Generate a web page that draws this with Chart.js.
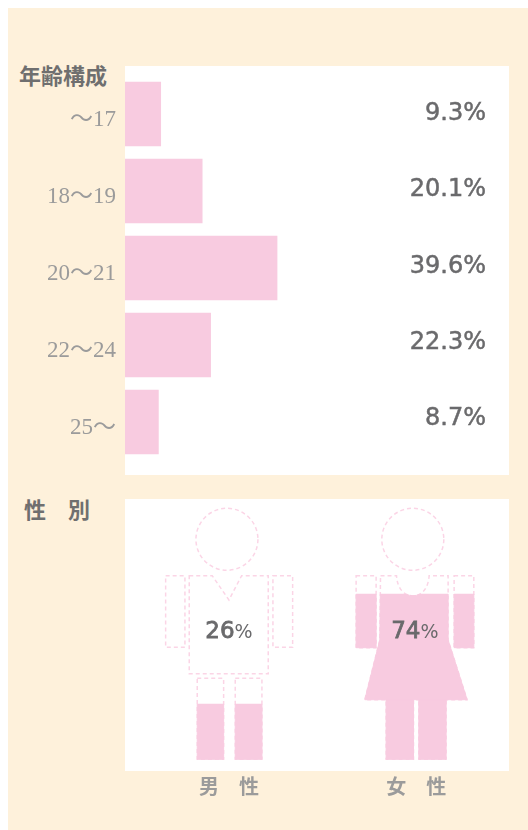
<!DOCTYPE html>
<html lang="ja"><head><meta charset="utf-8">
<style>
html,body{margin:0;padding:0;background:#fff;width:528px;height:830px;overflow:hidden}
#cream{position:absolute;left:8px;top:8px;width:520px;height:822px;background:#fef1db}
.panel{position:absolute;left:125px;width:384px;background:#fff}
.head{position:absolute;font:700 22px "Noto Sans CJK JP";color:#6f6f6f;white-space:pre;line-height:24px}
.w{position:absolute}
canvas{display:block}
</style>
<script src="https://cdn.jsdelivr.net/npm/chart.js@4"></script>
</head><body>
<div id="cream"></div>
<div class="panel" style="top:66px;height:409px"></div>
<div class="panel" style="top:499px;height:272px"></div>
<div class="head" style="left:19px;top:62px">年齢構成</div>
<div class="head" style="left:24px;top:496px">性　別</div>
<div class="w" style="left:0;top:66px;width:528px;height:409px"><canvas id="age" width="528" height="409"></canvas></div>
<div class="w" style="left:0;top:499px;width:528px;height:331px"><canvas id="sex" width="528" height="331"></canvas></div>
<script>
const ageLabels = ['～17','18～19','20～21','22～24','25～'];
const ageValues = [9.3,20.1,39.6,22.3,8.7];
const sexLabels = ['男　性','女　性'];
const maleValues = [26,null];
const femaleValues = [null,74];

const PINK='#f8cbe0', DASH='#fbd5e6', VALUE='#6a6a6c', TICK='#9b9b9b';
const VALFONT='"DejaVu Sans"';
Chart.defaults.animation=false;

// small vertical nudges of the percentage labels, as in the reference layout
const ageLabelNudge=[0,-1,-1,-2,-3];

const ageValueLabels={id:'ageValueLabels',afterDatasetsDraw(c){
  const {ctx,scales:{y}}=c;ctx.save();
  ctx.font='24px '+VALFONT;ctx.fillStyle=VALUE;ctx.strokeStyle=VALUE;ctx.lineWidth=0.5;ctx.textAlign='right';ctx.textBaseline='middle';
  ageValues.forEach((v,i)=>{
    const t=v.toFixed(1)+'%',py=y.getPixelForValue(i)+ageLabelNudge[i];
    ctx.fillText(t,486,py);ctx.strokeText(t,486,py);
  });
  ctx.restore();
}};

new Chart(document.getElementById('age'),{
  type:'bar',
  data:{labels:ageLabels,datasets:[{data:ageValues,backgroundColor:PINK,barThickness:64,borderWidth:0}]},
  options:{indexAxis:'y',responsive:false,maintainAspectRatio:false,
    layout:{autoPadding:false,padding:{top:9.5,bottom:14.5,right:19,left:0}},
    plugins:{legend:{display:false},tooltip:{enabled:false}},
    scales:{
      x:{display:false,min:0,max:100},
      y:{afterFit(s){s.width=125;s.paddingTop=0;s.paddingBottom=0},grid:{display:false},border:{display:false},
         ticks:{font:{family:'"Liberation Serif","Noto Sans CJK JP"',size:23},color:TICK,padding:1,labelOffset:5.5,autoSkip:false}}
    }},
  plugins:[ageValueLabels]
});

// Figure outlines relative to the category centre (dx); y = page y, converted to canvas y
const Y=p=>p-499;
function rectPath(ctx,cx,x0,x1,y0,y1){ctx.rect(cx+x0,Y(y0),x1-x0,y1-y0);}
function malePath(ctx,cx){
  ctx.moveTo(cx-2+31,Y(539.3));ctx.arc(cx-2,Y(539.3),31,0,Math.PI*2);ctx.closePath();
  rectPath(ctx,cx,-63.3,-44,575.7,647.3);
  rectPath(ctx,cx,44,63.7,575.7,647.3);
  ctx.moveTo(cx-39.7,Y(575.7));
  ctx.lineTo(cx-16.7,Y(575.7));
  ctx.lineTo(cx,Y(600));
  ctx.lineTo(cx+12.7,Y(575.7));
  ctx.lineTo(cx+39.3,Y(575.7));
  ctx.lineTo(cx+39.3,Y(673.7));
  ctx.lineTo(cx-39.7,Y(673.7));
  ctx.closePath();
  rectPath(ctx,cx,-31.7,-5.3,678.3,759.3);
  rectPath(ctx,cx,6.3,33,678.3,759.3);
}
function femalePath(ctx,cx){
  ctx.moveTo(cx-3.5+31,Y(539.3));ctx.arc(cx-3.5,Y(539.3),31,0,Math.PI*2);ctx.closePath();
  rectPath(ctx,cx,-60.2,-40.2,575.7,647.7);
  rectPath(ctx,cx,37.8,57.5,575.7,647.7);
  ctx.moveTo(cx-35.8,Y(575.7));
  ctx.lineTo(cx-19.8,Y(575.7));
  ctx.bezierCurveTo(cx-19,Y(588),cx-13,Y(595.7),cx-3.2,Y(595.7));
  ctx.bezierCurveTo(cx+6,Y(595.7),cx+12,Y(588),cx+12.8,Y(575.7));
  ctx.lineTo(cx+31.8,Y(575.7));
  ctx.lineTo(cx+31.8,Y(640));
  ctx.lineTo(cx+50.8,Y(699.7));
  ctx.lineTo(cx-51.5,Y(699.7));
  ctx.lineTo(cx-36.5,Y(640));
  ctx.closePath();
  rectPath(ctx,cx,-30.2,-2.8,699.7,759.3);
  rectPath(ctx,cx,2.5,29.8,699.7,759.3);
}
const figurePaths=[malePath,femalePath];
const sexValues=[26,74];

const figures={id:'figures',
  beforeDatasetsDraw(c){
    const {ctx,scales:{x}}=c;
    ctx.save();
    ctx.strokeStyle=DASH;ctx.lineWidth=1.5;ctx.setLineDash([4,3]);
    figurePaths.forEach((p,i)=>{ctx.beginPath();p(ctx,x.getPixelForValue(i));ctx.stroke();});
    ctx.restore();
  },
  beforeDatasetDraw(c,args){
    const ctx=c.ctx,cx=c.scales.x.getPixelForValue(args.index);
    ctx.save();ctx.beginPath();figurePaths[args.index](ctx,cx);ctx.clip();
  },
  afterDatasetDraw(c,args){
    const ctx=c.ctx,i=args.index,cx=c.scales.x.getPixelForValue(i);
    ctx.restore();
    // smooth edge on the filled part of the figure
    const bar=c.getDatasetMeta(i).data[i];
    ctx.save();
    ctx.beginPath();ctx.rect(cx-bar.width/2,bar.y,bar.width,bar.base-bar.y);ctx.clip();
    ctx.strokeStyle=PINK;ctx.lineWidth=1;
    ctx.beginPath();figurePaths[i](ctx,cx);ctx.stroke();
    ctx.restore();
  },
  afterDatasetsDraw(c){
    const {ctx,scales:{x}}=c;
    ctx.save();
    ctx.fillStyle=VALUE;ctx.strokeStyle=VALUE;ctx.lineWidth=0.8;ctx.textBaseline='middle';
    sexValues.forEach((v,i)=>{
      const a=String(v),b='%',cx=x.getPixelForValue(i)-(i?1.5:0);
      ctx.font='23px '+VALFONT;const wa=ctx.measureText(a).width;
      ctx.font='19px '+VALFONT;const wb=ctx.measureText(b).width;
      const left=cx-(wa+wb)/2;
      ctx.textAlign='left';
      ctx.font='23px '+VALFONT;ctx.fillText(a,left,Y(632));ctx.strokeText(a,left,Y(632));
      ctx.font='19px '+VALFONT;ctx.fillText(b,left+wa,Y(633));
    });
    ctx.restore();
  }
};

new Chart(document.getElementById('sex'),{
  type:'bar',
  data:{labels:sexLabels,datasets:[
    {data:maleValues,backgroundColor:PINK,borderWidth:0,grouped:false,barPercentage:1,categoryPercentage:1},
    {data:femaleValues,backgroundColor:PINK,borderWidth:0,grouped:false,barPercentage:1,categoryPercentage:1}
  ]},
  options:{responsive:false,maintainAspectRatio:false,
    layout:{autoPadding:false,padding:{left:135.25,right:18,top:35.4,bottom:0}},
    plugins:{legend:{display:false},tooltip:{enabled:false}},
    scales:{
      y:{display:false,min:0,max:100},
      x:{afterFit(s){s.height=66.4},grid:{display:false},border:{display:false},
         ticks:{font:{family:'"Noto Sans CJK JP"',size:20,weight:'700'},color:TICK,padding:3,maxRotation:0}}
    }},
  plugins:[figures]
});
</script>
</body></html>
